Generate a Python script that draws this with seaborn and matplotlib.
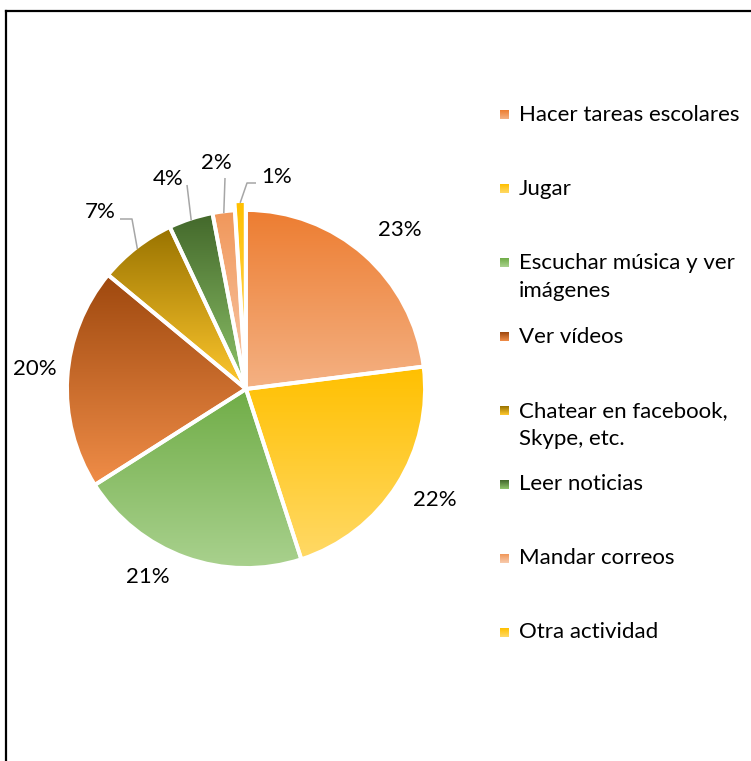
import numpy as np
import matplotlib
matplotlib.use("Agg")
import matplotlib.pyplot as plt
import seaborn as sns

# ---- data ----
categories = [
    "Hacer tareas escolares",
    "Jugar",
    "Escuchar música y ver\nimágenes",
    "Ver vídeos",
    "Chatear en facebook,\nSkype, etc.",
    "Leer noticias",
    "Mandar correos",
    "Otra actividad",
]
values = [23, 22, 21, 20, 7, 4, 2, 1]

# ---- style ----
sns.set_theme(style="white")
plt.rcParams["font.family"] = ["Lato", "DejaVu Sans"]

# top/bottom colours of the vertical gradient used on each slice
grad_top = ["#ED7D31", "#FFC000", "#70AD47", "#9E480E",
            "#997300", "#43682B", "#F1975A", "#FFC000"]
grad_bot = ["#F4B183", "#FFD966", "#A9D18E", "#F08D48",
            "#FFC82E", "#8FC46A", "#F8CBAD", "#FFD966"]
explode = [0, 0, 0, 0, 0, 0, 0, 9]

W, H = 751, 761
FS = 16
TXT = "#000000"


def Y(p):
    """pixel row -> data y (y axis points up)"""
    return H - p


def gradient(top, bot, n=256):
    cols = np.array(sns.blend_palette([top, bot], n_colors=n))
    return cols.reshape(n, 1, 3)


fig = plt.figure(figsize=(W / 100, H / 100), dpi=100)
ax = fig.add_axes([0, 0, 1, 1])

cx, cy, R = 246, Y(389), 179
wedges, _ = ax.pie(values, startangle=90, counterclock=False, radius=R,
                   center=(cx, cy), explode=explode,
                   wedgeprops=dict(edgecolor="white", linewidth=2.8,
                                   facecolor="none", zorder=3))

# gradient fill clipped to each wedge
for w, t, b in zip(wedges, grad_top, grad_bot):
    ext = w.get_path().get_extents()
    im = ax.imshow(gradient(t, b), extent=(ext.x0, ext.x1, ext.y0, ext.y1),
                   origin="upper", aspect="auto", interpolation="bilinear",
                   zorder=2)
    im.set_clip_path(w)

# data labels (pixel layout) and leader lines for the small slices
label_pos = [(400, 230), (435, 500), (148, 577), (35, 369),
             (100, 212), (168, 179), (216, 163), (277, 177)]
leader_pts = {4: [(120, 219), (132, 219)],
              5: [(187, 185)],
              6: [(225, 178)],
              7: [(256, 183), (247, 183)]}

for i, (v, (lx, ly)) in enumerate(zip(values, label_pos)):
    ax.text(lx, Y(ly), f"{v}%", ha="center", va="center",
            fontsize=FS, color=TXT, zorder=5)
    if i in leader_pts:
        w = wedges[i]
        th = np.deg2rad(0.5 * (w.theta1 + w.theta2))
        ex = w.center[0] + 0.99 * w.r * np.cos(th)
        ey = w.center[1] + 0.99 * w.r * np.sin(th)
        pts = [(x, Y(y)) for x, y in leader_pts[i]] + [(ex, ey)]
        xs, ys = zip(*pts)
        ax.plot(xs, ys, color="#A6A6A6", lw=1.1, zorder=4,
                solid_capstyle="butt")

# legend (first lines evenly spaced)
leg_y0, leg_dy, line_h = 115, 73.9, 28
for i, (name, t, b) in enumerate(zip(categories, grad_top, grad_bot)):
    yc = leg_y0 + i * leg_dy
    ax.imshow(gradient(t, b, 32), extent=(500, 509, Y(yc + 4.5), Y(yc - 4.5)),
              origin="upper", aspect="auto", interpolation="bilinear", zorder=2)
    for k, line in enumerate(name.split("\n")):
        ax.text(519, Y(yc + k * line_h), line, ha="left", va="center",
                fontsize=FS, color=TXT, zorder=5)

# chart frame
ax.plot([5.5, 5.5], [Y(H + 5), Y(10.5)], color="black", lw=1.6,
        solid_capstyle="projecting")
ax.plot([5.5, W + 5], [Y(10.5), Y(10.5)], color="black", lw=1.6,
        solid_capstyle="projecting")

ax.set_xlim(0, W)
ax.set_ylim(0, H)
ax.set_aspect("auto")
ax.axis("off")

fig.savefig("out.png", dpi=100, facecolor="white")
